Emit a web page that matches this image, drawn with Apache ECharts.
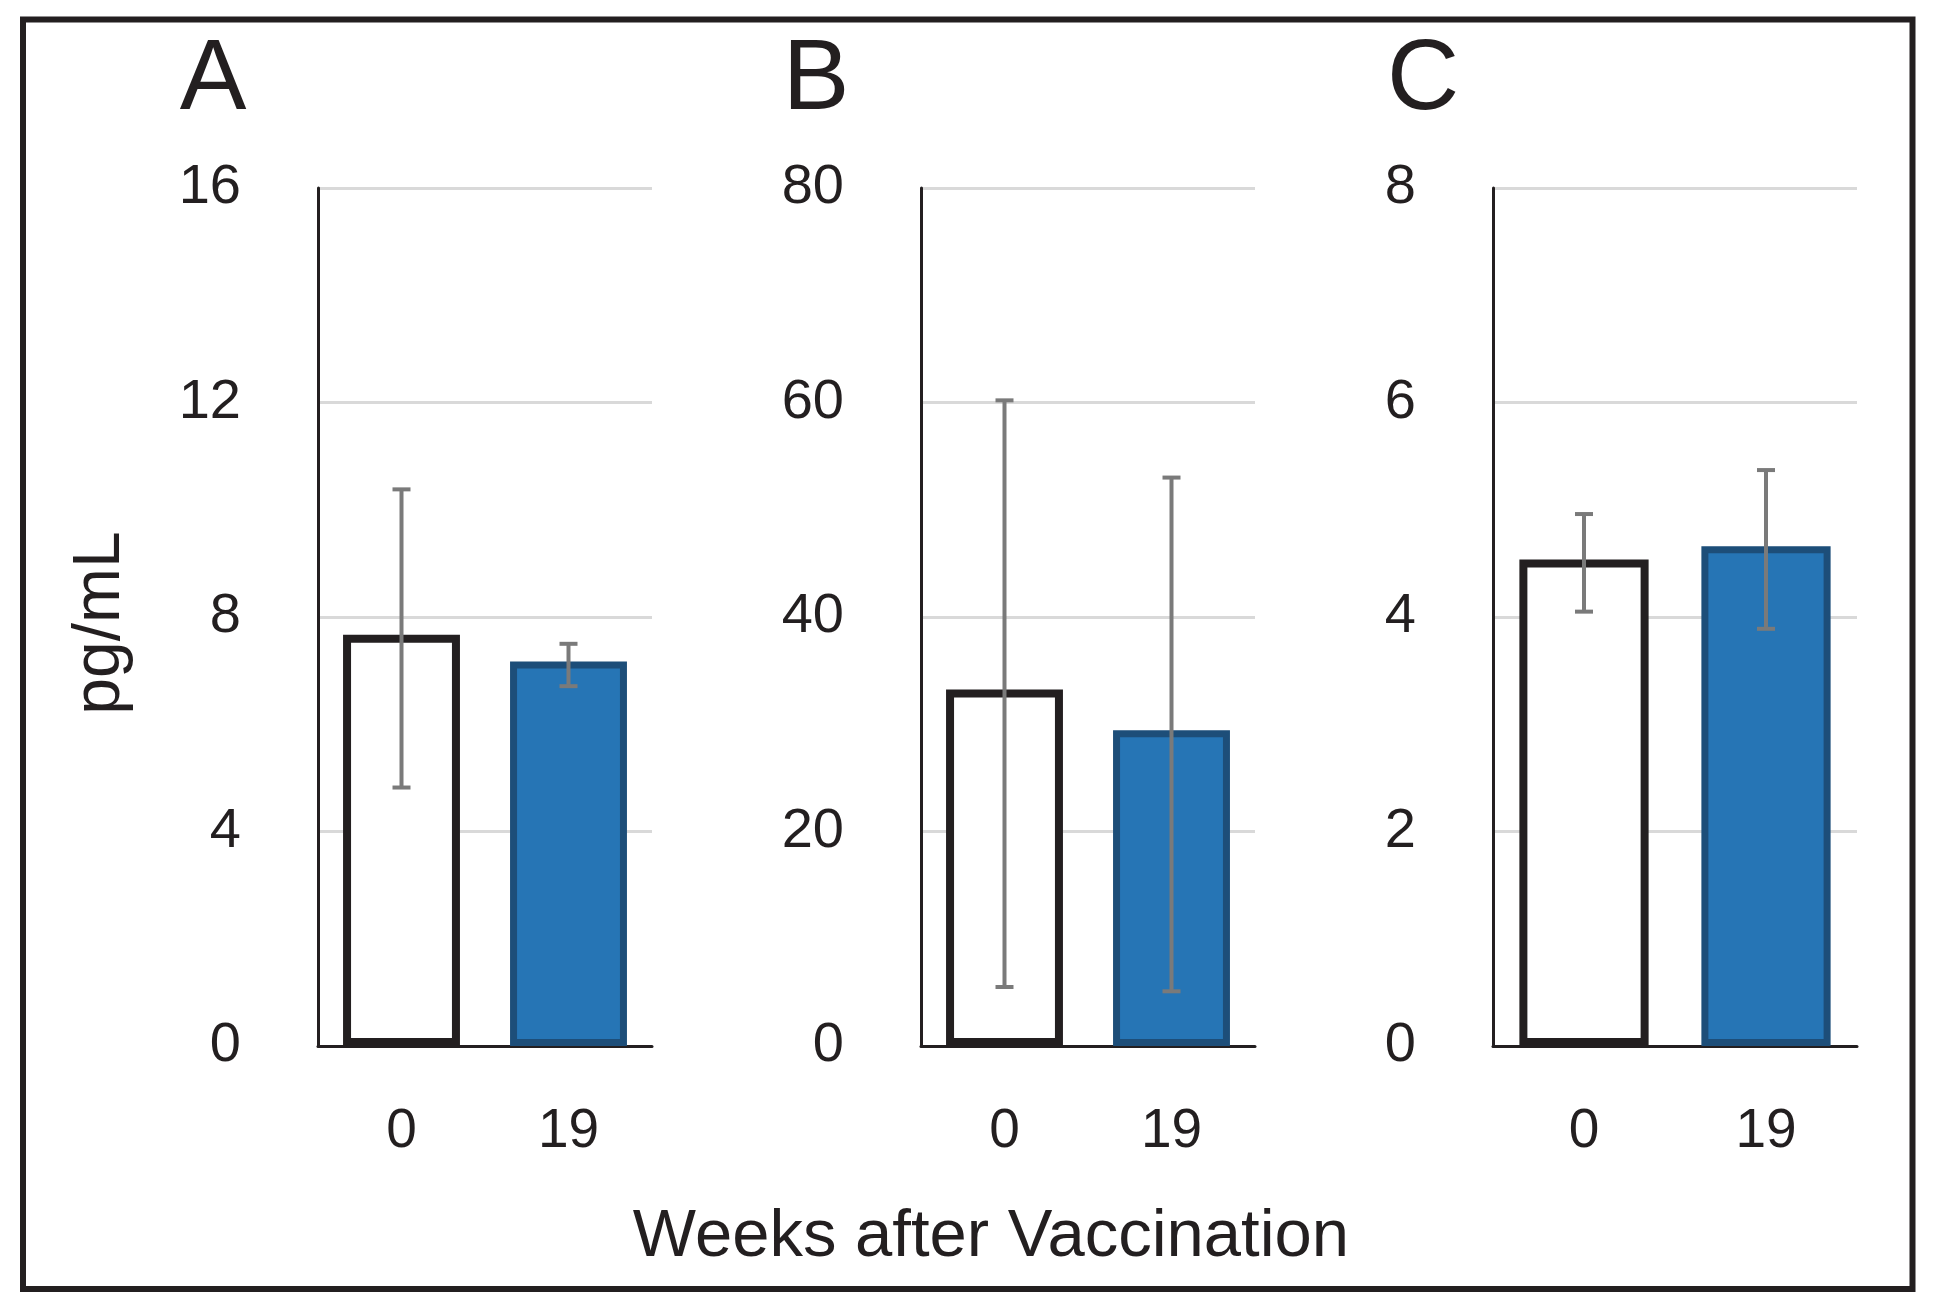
<!DOCTYPE html>
<html>
<head>
<meta charset="utf-8">
<script src="https://cdn.jsdelivr.net/npm/echarts@6/dist/echarts.min.js"></script>
<style>
html,body{margin:0;padding:0;background:#fff;}
#chart{width:1935px;height:1313px;}
</style>
</head>
<body>
<div id="chart"></div>
<script>
// ---- data ----
const categories = ['0', '19'];
const panelLabels = ['A', 'B', 'C'];
const meansA = [7.67, 7.17];
const errLowA = [4.82, 6.71];
const errHighA = [10.38, 7.50];
const meansB = [33.25, 29.45];
const errLowB = [5.5, 5.1];
const errHighB = [60.2, 53.0];
const meansC = [4.535, 4.66];
const errLowC = [4.05, 3.89];
const errHighC = [4.96, 5.37];
const yMaxes = [16, 80, 8];
const yIntervals = [4, 20, 2];
const yTitle = 'pg/mL';
const xTitle = 'Weeks after Vaccination';

const means = [meansA, meansB, meansC];
const lows = [errLowA, errLowB, errLowC];
const highs = [errHighA, errHighB, errHighC];

const FONT = '"Liberation Sans", Arial, sans-serif';
const TXT = '#231f20';
const gridBoxes = [
  {left: 318, right: 1935 - 652},
  {left: 921, right: 1935 - 1255},
  {left: 1493, right: 1935 - 1857}
];
const barWidths = ['70%', '70%', '71%'];
const labelX = [213, 816, 1423];

const grids = [], xAxes = [], yAxes = [], series = [], graphics = [];
for (let p = 0; p < 3; p++) {
  grids.push({left: gridBoxes[p].left, right: gridBoxes[p].right, top: 188, bottom: 267, containLabel: false});
  xAxes.push({
    type: 'category', gridIndex: p, data: categories,
    axisLine: {show: true, lineStyle: {color: TXT, width: 3}},
    axisTick: {show: false},
    axisLabel: {color: TXT, fontSize: 55, fontFamily: FONT, margin: 58}
  });
  yAxes.push({
    type: 'value', gridIndex: p, min: 0, max: yMaxes[p], interval: yIntervals[p],
    axisLine: {show: true, lineStyle: {color: TXT, width: 3}},
    axisTick: {show: false},
    axisLabel: {color: TXT, fontSize: 56, fontFamily: FONT, margin: 77},
    splitLine: {show: true, lineStyle: {color: '#d9d9d9', width: 3}}
  });
  series.push({
    type: 'bar', xAxisIndex: p, yAxisIndex: p, barWidth: barWidths[p],
    data: means[p].map((v, i) => ({
      value: v,
      itemStyle: i === 0
        ? {color: '#ffffff', borderColor: TXT, borderWidth: 8}
        : {color: '#2675b5', borderColor: '#1d4e79', borderWidth: 7}
    })),
    z: 2
  });
  series.push({
    type: 'custom', xAxisIndex: p, yAxisIndex: p, z: 5,
    data: means[p].map((v, i) => [i, lows[p][i], highs[p][i]]),
    renderItem: function (params, api) {
      const x = api.value(0);
      const lo = api.coord([x, api.value(1)]);
      const hi = api.coord([x, api.value(2)]);
      const hw = 9;
      const st = {stroke: '#7a7a7a', lineWidth: 4};
      return {
        type: 'group',
        children: [
          {type: 'line', shape: {x1: lo[0], y1: lo[1], x2: hi[0], y2: hi[1]}, style: st},
          {type: 'line', shape: {x1: lo[0] - hw, y1: lo[1], x2: lo[0] + hw, y2: lo[1]}, style: st},
          {type: 'line', shape: {x1: hi[0] - hw, y1: hi[1], x2: hi[0] + hw, y2: hi[1]}, style: st}
        ]
      };
    }
  });
  graphics.push({
    type: 'text', x: labelX[p], y: 81,
    style: {text: panelLabels[p], fill: TXT, font: '100px ' + FONT, textAlign: 'center', textVerticalAlign: 'middle'}
  });
}

graphics.push({
  type: 'text', x: 101, y: 623, rotation: Math.PI / 2,
  style: {text: yTitle, fill: TXT, font: '66px ' + FONT, textAlign: 'center', textVerticalAlign: 'middle'}
});
graphics.push({
  type: 'text', x: 991, y: 1238,
  style: {text: xTitle, fill: TXT, font: '67px ' + FONT, textAlign: 'center', textVerticalAlign: 'middle'}
});
graphics.push({
  type: 'rect', shape: {x: 23, y: 19.5, width: 1912.5 - 23, height: 1289 - 19.5},
  style: {fill: 'none', stroke: TXT, lineWidth: 6}, z: 10
});

const chart = echarts.init(document.getElementById('chart'), null, {renderer: 'canvas'});
chart.setOption({
  animation: false,
  backgroundColor: '#ffffff',
  grid: grids,
  xAxis: xAxes,
  yAxis: yAxes,
  series: series,
  graphic: graphics
});
</script>
</body>
</html>
